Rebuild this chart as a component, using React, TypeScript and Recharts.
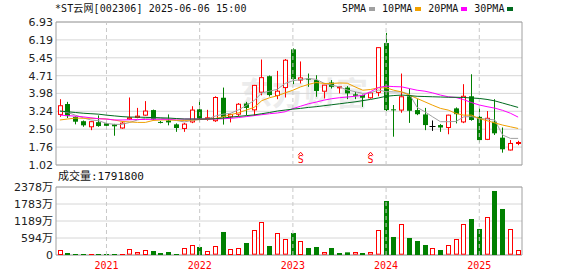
import React from 'react';
import {
  ComposedChart,
  Bar,
  Line,
  XAxis,
  YAxis,
  CartesianGrid,
  ReferenceLine,
  ReferenceArea,
  ReferenceDot,
} from 'recharts';

const months = [
  '2020-07', '2020-08', '2020-09', '2020-10', '2020-11', '2020-12',
  '2021-01', '2021-02', '2021-03', '2021-04', '2021-05', '2021-06',
  '2021-07', '2021-08', '2021-09', '2021-10', '2021-11', '2021-12',
  '2022-01', '2022-02', '2022-03', '2022-04', '2022-05', '2022-06',
  '2022-07', '2022-08', '2022-09', '2022-10', '2022-11', '2022-12',
  '2023-01', '2023-02', '2023-03', '2023-04', '2023-05', '2023-06',
  '2023-07', '2023-08', '2023-09', '2023-10', '2023-11', '2023-12',
  '2024-01', '2024-02', '2024-03', '2024-04', '2024-05', '2024-06',
  '2024-07', '2024-08', '2024-09', '2024-10', '2024-11', '2024-12',
  '2025-01', '2025-02', '2025-03', '2025-04', '2025-05', '2025-06',
];

const opens = [
  3.11, 3.54, 3.01, 2.83, 2.60, 2.79, 2.74, 2.70, 2.55, 2.92,
  2.99, 3.08, 3.29, 2.80, 2.86, 2.70, 2.53, 2.80, 3.32, 2.93,
  2.85, 3.80, 3.01, 3.12, 3.56, 3.30, 4.03, 4.69, 3.89, 4.22,
  5.80, 4.53, 4.59, 4.53, 4.07, 4.43, 4.21, 4.22, 3.94, 3.91,
  3.80, 4.02, 6.06, 3.32, 3.29, 3.86, 3.29, 3.11, 2.64, 2.67,
  2.57, 3.36, 2.80, 3.86, 3.01, 2.08, 2.81, 2.15, 1.64, 1.92,
];
const highs = [
  3.74, 3.63, 3.03, 2.86, 2.84, 3.07, 2.78, 2.72, 2.80, 3.81,
  3.38, 3.66, 3.31, 2.84, 3.11, 2.74, 2.76, 3.45, 3.70, 3.30,
  3.86, 4.22, 3.15, 3.58, 3.63, 4.33, 5.38, 4.72, 4.91, 5.40,
  5.84, 5.30, 4.80, 4.73, 4.33, 4.53, 4.26, 4.28, 4.04, 3.93,
  4.02, 5.89, 6.48, 3.50, 4.80, 4.18, 3.74, 3.38, 2.86, 2.71,
  3.10, 3.40, 4.36, 4.77, 3.38, 3.25, 3.74, 2.57, 2.05, 2.02,
];
const lows = [
  3.01, 2.96, 2.70, 2.60, 2.46, 2.60, 2.60, 2.23, 2.52, 2.88,
  2.95, 3.05, 2.87, 2.74, 2.66, 2.39, 2.39, 2.75, 2.81, 2.85,
  2.80, 2.69, 2.78, 3.02, 3.08, 3.05, 3.90, 3.85, 3.74, 3.81,
  4.36, 4.39, 4.25, 3.84, 3.77, 4.18, 3.98, 3.74, 3.74, 3.42,
  3.76, 3.86, 3.25, 2.19, 3.18, 2.76, 3.08, 2.46, 2.43, 2.39,
  2.29, 2.74, 2.75, 2.85, 1.95, 2.05, 2.26, 1.53, 1.62, 1.84,
];
const closes = [
  3.47, 3.04, 2.81, 2.66, 2.81, 2.63, 2.64, 2.62, 2.75, 2.97,
  3.04, 3.25, 2.90, 2.76, 2.78, 2.55, 2.71, 3.29, 2.94, 2.97,
  3.81, 3.00, 3.11, 3.53, 3.38, 4.31, 4.63, 3.91, 4.07, 5.35,
  4.57, 4.62, 4.55, 4.08, 4.32, 4.25, 4.25, 3.98, 3.88, 3.80,
  4.00, 5.87, 3.29, 3.28, 3.84, 3.26, 3.12, 2.67, 2.64, 2.57,
  3.08, 3.12, 3.86, 2.88, 2.05, 2.95, 2.33, 1.67, 1.91, 1.95,
];

// volume in 万 shares
const volumes = [
  175, 70, 35, 35, 35, 35, 35, 35, 35, 198,
  93, 175, 140, 70, 105, 35, 233, 338, 280, 140,
  303, 805, 210, 245, 420, 863, 1143, 315, 758, 548,
  770, 490, 245, 280, 93, 245, 70, 93, 93, 70,
  93, 863, 1889, 630, 1073, 595, 490, 350, 257, 175,
  338, 548, 1073, 1259, 910, 1318, 2239, 1609, 898, 179.18,
];
const volumeUp = [
  1, 0, 0, 0, 1, 0, 0, 0, 1, 1,
  1, 1, 0, 0, 0, 0, 1, 1, 0, 1,
  1, 0, 1, 1, 0, 1, 1, 0, 1, 1,
  0, 1, 0, 0, 1, 0, 0, 0, 1, 0,
  1, 1, 0, 0, 1, 0, 0, 0, 1, 0,
  1, 1, 1, 0, 0, 1, 0, 0, 1, 1,
];

const ma5 = [
  3.25, 3.19, 3.08, 2.97, 2.88, 2.85, 2.74, 2.70, 2.70, 2.78,
  2.88, 2.95, 2.97, 2.95, 2.92, 2.86, 2.80, 2.86, 2.90, 2.92,
  3.04, 3.12, 3.16, 3.30, 3.48, 3.68, 4.00, 4.07, 4.15, 4.39,
  4.50, 4.55, 4.60, 4.56, 4.40, 4.32, 4.25, 4.12, 4.05, 3.98,
  4.00, 4.12, 4.05, 4.04, 4.04, 3.95, 3.40, 3.22, 3.01, 2.81,
  2.81, 2.82, 3.01, 3.02, 2.94, 2.92, 2.88, 2.26, 2.12, 2.12,
];
const ma10 = [
  2.88, 2.92, 2.96, 2.95, 2.95, 2.94, 2.92, 2.88, 2.82, 2.80,
  2.78, 2.78, 2.86, 2.88, 2.88, 2.87, 2.86, 2.88, 2.90, 2.91,
  2.94, 3.01, 3.10, 3.18, 3.29, 3.40, 3.68, 3.80, 3.88, 4.00,
  4.11, 4.25, 4.35, 4.43, 4.39, 4.39, 4.41, 4.40, 4.25, 4.11,
  4.14, 4.21, 4.21, 4.11, 4.04, 3.91, 3.77, 3.63, 3.49, 3.36,
  3.29, 3.15, 3.08, 3.08, 2.94, 2.85, 2.76, 2.67, 2.60, 2.53,
];
const ma20 = [
  3.08, 3.06, 3.04, 3.01, 2.97, 2.93, 2.92, 2.88, 2.88, 2.89,
  2.90, 2.90, 2.91, 2.91, 2.91, 2.92, 2.92, 2.92, 2.92, 2.92,
  2.92, 2.93, 2.95, 2.98, 3.02, 3.06, 3.10, 3.14, 3.17, 3.22,
  3.35, 3.45, 3.55, 3.62, 3.70, 3.76, 3.80, 3.83, 3.86, 3.90,
  4.05, 4.22, 4.28, 4.26, 4.25, 4.18, 4.11, 4.07, 4.00, 3.91,
  3.84, 3.81, 3.72, 3.60, 3.50, 3.43, 3.37, 3.28, 3.16, 3.00,
];
const ma30 = [
  3.25, 3.22, 3.19, 3.16, 3.14, 3.12, 3.08, 3.05, 3.02, 3.00,
  3.00, 2.99, 2.98, 2.97, 2.96, 2.94, 2.92, 2.92, 2.92, 2.92,
  2.93, 2.96, 3.00, 3.03, 3.06, 3.09, 3.14, 3.19, 3.25, 3.29,
  3.33, 3.36, 3.40, 3.43, 3.47, 3.51, 3.55, 3.59, 3.63, 3.68,
  3.73, 3.79, 3.86, 3.89, 3.91, 3.89, 3.86, 3.85, 3.84, 3.83,
  3.82, 3.82, 3.81, 3.79, 3.77, 3.73, 3.67, 3.58, 3.49, 3.40,
];

const priceTicks = [1.02, 1.76, 2.5, 3.24, 3.98, 4.71, 5.45, 6.19, 6.93];
const volumeTicks = [0, 594, 1189, 1783, 2378];
const yearTicks = ['2021-01', '2022-01', '2023-01', '2024-01', '2025-01'];
const stMarks = ['2023-02', '2023-11'];

const maSeries = [
  { key: 'ma5', name: '5PMA', color: '#a0a0a0' },
  { key: 'ma10', name: '10PMA', color: '#f0a000' },
  { key: 'ma20', name: '20PMA', color: '#ff00ff' },
  { key: 'ma30', name: '30PMA', color: '#006a1e' },
];

const data = months.map((m, i) => ({
  month: m,
  open: opens[i],
  high: highs[i],
  low: lows[i],
  close: closes[i],
  vol: volumes[i],
  up: volumeUp[i],
  ma5: ma5[i],
  ma10: ma10[i],
  ma20: ma20[i],
  ma30: ma30[i],
}));

const RED = '#ff0000';
const GREEN = '#008000';
const FRAME = '#a0a0a0';
const GRID = '#d6d6d6';
const TICK_FONT = { fontSize: 11, fill: '#222', fontFamily: '"DejaVu Sans", "Noto Sans CJK SC"' };
const MONO = '"DejaVu Sans Mono", "Noto Sans CJK SC", monospace';

const Candle = (props: any) => {
  const { x, y, width, height, payload } = props;
  const { open, close, high, low } = payload;
  const top = Math.min(y, y + height);
  const bottom = Math.max(y, y + height);
  const span = high - low;
  const toY = (v: number) => (span === 0 ? top : top + ((high - v) / span) * (bottom - top));
  const cx = Math.round(x + width / 2) + 0.5;
  const yo = toY(open);
  const yc = toY(close);
  const bTop = Math.min(yo, yc);
  const bBot = Math.max(yo, yc);
  if (close > open) {
    return (
      <g>
        <line x1={cx} x2={cx} y1={top} y2={bTop} stroke={RED} />
        <line x1={cx} x2={cx} y1={bBot} y2={bottom} stroke={RED} />
        <rect x={cx - 2} y={bTop} width={4} height={Math.max(bBot - bTop, 1)} fill="#fff" stroke={RED} />
      </g>
    );
  }
  if (close < open) {
    return (
      <g>
        <line x1={cx} x2={cx} y1={top} y2={bottom} stroke={GREEN} />
        <rect x={cx - 2.5} y={bTop} width={5} height={Math.max(bBot - bTop, 1)} fill={GREEN} />
      </g>
    );
  }
  return (
    <g>
      <line x1={cx} x2={cx} y1={top} y2={bottom} stroke="#000" />
      <line x1={cx - 3} x2={cx + 3} y1={Math.round(yo) + 0.5} y2={Math.round(yo) + 0.5} stroke="#000" />
    </g>
  );
};

const VolBar = (props: any) => {
  const { x, y, width, height, payload } = props;
  const cx = Math.round(x + width / 2) + 0.5;
  const h = Math.max(Math.abs(height), 1);
  const top = Math.min(y, y + height);
  if (payload.up) {
    return (
      <rect x={cx - 2} y={Math.round(top) + 0.5} width={4} height={Math.max(h - 1, 0.5)} fill="#fff" stroke={RED} />
    );
  }
  return <rect x={cx - 2.5} y={top} width={5} height={h} fill={GREEN} />;
};

const StMark = (props: any) => {
  const { cx, cy } = props;
  return (
    <g>
      <path d={`M${cx - 2.5},${cy - 3} L${cx},${cy - 6} L${cx + 2.5},${cy - 3}`} stroke={RED} fill="none" />
      <text x={cx} y={cy + 5} textAnchor="middle" fontSize={10} fill={RED} fontFamily={MONO}>
        S
      </text>
    </g>
  );
};

export default function App() {
  return (
    <div style={{ position: 'absolute', left: 0, top: 0, width: 578, height: 276, background: '#fff' }}>
      <div
        style={{
          position: 'absolute',
          left: 55,
          top: 3,
          fontFamily: MONO,
          fontSize: 10,
          letterSpacing: 0.1,
          color: '#111',
          whiteSpace: 'nowrap',
          lineHeight: '12px',
        }}
      >
        *ST云网[002306] 2025-06-06 15:00
      </div>
      <div
        style={{
          position: 'absolute',
          left: 342,
          top: 3,
          display: 'flex',
          alignItems: 'center',
          fontFamily: MONO,
          fontSize: 10,
          color: '#111',
          lineHeight: '12px',
          whiteSpace: 'nowrap',
        }}
      >
        {maSeries.map((s) => (
          <span key={s.key} style={{ display: 'flex', alignItems: 'center', marginRight: 7 }}>
            {s.name}
            <span style={{ display: 'inline-block', width: 6, height: 4, marginLeft: 3, background: s.color }} />
          </span>
        ))}
      </div>
      <div
        style={{
          position: 'absolute',
          left: 240,
          top: 68,
          fontFamily: '"Noto Sans CJK SC"',
          fontWeight: 700,
          fontSize: 32,
          color: '#ececec',
          whiteSpace: 'nowrap',
        }}
      >
        东方财富
      </div>

      <div style={{ position: 'absolute', left: 0, top: 0 }}>
        <ComposedChart width={578} height={178} data={data} margin={{ top: 22, right: 56, bottom: 13, left: 0 }}>
          <CartesianGrid vertical={false} stroke={GRID} />
          <XAxis dataKey="month" hide />
          <YAxis
            domain={[1.02, 6.93]}
            ticks={priceTicks}
            allowDataOverflow
            width={56}
            axisLine={false}
            tickLine={false}
            tickSize={0}
            tickMargin={3}
            interval={0}
            tick={TICK_FONT}
            tickFormatter={(v: number) => v.toFixed(2)}
          />
          {yearTicks.map((m) => (
            <ReferenceLine key={m} x={m} stroke="#c8c8c8" strokeDasharray="4 3" />
          ))}
          <ReferenceArea y1={1.02} y2={6.93} fill="none" stroke={FRAME} strokeWidth={1} />
          <Bar dataKey={(d: any) => [d.low, d.high]} barSize={5} shape={<Candle />} isAnimationActive={false} />
          {maSeries.map((s) => (
            <Line
              key={s.key}
              type="linear"
              dataKey={s.key}
              stroke={s.color}
              strokeWidth={1}
              dot={false}
              activeDot={false}
              isAnimationActive={false}
            />
          ))}
          {stMarks.map((m) => (
            <ReferenceDot key={m} x={m} y={1.3} r={0} shape={<StMark />} />
          ))}
        </ComposedChart>
      </div>

      <div
        style={{
          position: 'absolute',
          left: 58,
          top: 170,
          fontFamily: MONO,
          fontSize: 11,
          color: '#111',
          whiteSpace: 'nowrap',
          lineHeight: '14px',
        }}
      >
        成交量:1791800
      </div>

      <div style={{ position: 'absolute', left: 0, top: 170 }}>
        <ComposedChart width={578} height={106} data={data} margin={{ top: 17, right: 56, bottom: 0, left: 0 }}>
          <CartesianGrid vertical={false} stroke={GRID} />
          <XAxis
            dataKey="month"
            ticks={yearTicks}
            interval={0}
            height={21}
            axisLine={false}
            tickLine={false}
            tickSize={0}
            tickMargin={7}
            tick={{ fontSize: 10, fill: RED, fontFamily: MONO }}
            tickFormatter={(v: string) => v.slice(0, 4)}
          />
          <YAxis
            domain={[0, 2378]}
            ticks={volumeTicks}
            allowDataOverflow
            width={56}
            axisLine={false}
            tickLine={false}
            tickSize={0}
            tickMargin={3}
            interval={0}
            tick={TICK_FONT}
            tickFormatter={(v: number) => (v === 0 ? '0' : `${v}万`)}
          />
          {yearTicks.map((m) => (
            <ReferenceLine key={m} x={m} stroke="#c8c8c8" strokeDasharray="4 3" />
          ))}
          <ReferenceArea y1={0} y2={2378} fill="none" stroke={FRAME} strokeWidth={1} />
          <Bar dataKey="vol" barSize={5} shape={<VolBar />} isAnimationActive={false} />
        </ComposedChart>
      </div>
    </div>
  );
}
